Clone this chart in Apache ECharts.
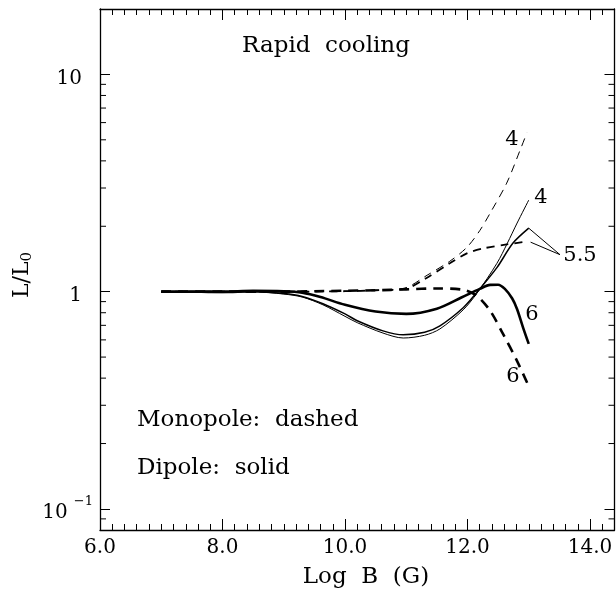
<!DOCTYPE html>
<html><head><meta charset="utf-8">
<script src="https://cdn.jsdelivr.net/npm/echarts@6.0.0/dist/echarts.min.js"></script>
<style>html,body{margin:0;padding:0;background:#fff}#c{width:616px;height:590px}</style>
</head><body><div id="c"></div>
<script>
const FONT = 'DejaVu Serif';

// Dipole (solid) curves
const dip6X  = [7.0, 7.5, 8.0, 8.5, 9.0, 9.3, 9.6, 10.0, 10.5, 11.0, 11.5, 11.9, 12.2, 12.37, 12.5, 12.61, 12.73, 12.81, 12.91, 13.0];
const dip6Y  = [1.00, 1.00, 1.00, 1.01, 1.005, 0.99, 0.945, 0.87, 0.81, 0.79, 0.835, 0.94, 1.03, 1.075, 1.077, 1.03, 0.93, 0.83, 0.68, 0.575];
const dip55X = [7.0, 7.5, 8.0, 8.5, 9.0, 9.3, 9.64, 10.0, 10.2, 10.62, 10.95, 11.3, 11.55, 11.93, 12.15, 12.48, 12.74, 13.0];
const dip55Y = [1.00, 0.995, 0.99, 1.0, 0.98, 0.95, 0.88, 0.79, 0.735, 0.66, 0.633, 0.65, 0.696, 0.843, 0.99, 1.29, 1.67, 1.96];
const dip4X  = [7.0, 7.5, 8.0, 8.5, 9.0, 9.3, 9.64, 10.0, 10.2, 10.62, 10.95, 11.3, 11.55, 11.93, 12.15, 12.48, 12.65, 12.81, 13.0];
const dip4Y  = [1.00, 0.995, 0.99, 1.0, 0.975, 0.945, 0.87, 0.77, 0.72, 0.645, 0.612, 0.63, 0.674, 0.825, 0.98, 1.35, 1.67, 2.07, 2.64];

// Monopole (dashed) curves
const mono6X  = [7.0, 8.0, 9.0, 9.5, 10.0, 10.5, 11.0, 11.5, 11.93, 12.15, 12.37, 12.58, 12.81, 13.0];
const mono6Y  = [1.0, 1.0, 1.0, 1.005, 1.01, 1.015, 1.025, 1.035, 1.02, 0.958, 0.817, 0.639, 0.479, 0.367];
const mono55X = [7.0, 8.0, 9.0, 10.0, 10.5, 10.98, 11.34, 11.71, 11.99, 12.25, 12.64, 12.9];
const mono55Y = [1.0, 1.0, 1.0, 1.005, 1.015, 1.03, 1.16, 1.35, 1.5, 1.58, 1.65, 1.69];
const mono4X  = [7.0, 8.0, 9.0, 10.0, 10.5, 10.98, 11.34, 11.71, 11.99, 12.2, 12.37, 12.64, 12.86, 12.97];
const mono4Y  = [1.0, 1.0, 1.0, 1.005, 1.015, 1.04, 1.19, 1.38, 1.6, 1.91, 2.3, 3.16, 4.49, 5.39];

// Leader lines for the "5.5" label
const pointerX = [13.0, 13.51, 13.03];
const pointerY = [1.96, 1.48, 1.69];

// Axis ranges and ticks
const xMin = 6, xMax = 14.4, xStep = 2;
const yMin = 0.08, yMax = 20;
const yMinorTicks = [0.09, 0.2, 0.3, 0.4, 0.5, 0.6, 0.7, 0.8, 0.9, 2, 3, 4, 5, 6, 7, 8, 9];

const pair = (xs, ys) => xs.map((x, i) => [x, ys[i]]);

const chart = echarts.init(document.getElementById('c'), null, {renderer: 'canvas'});

const xAxisBase = {
  type: 'value', min: xMin, max: xMax, interval: xStep,
  axisLine: {show: true, onZero: false, lineStyle: {color: '#000', width: 1.3}},
  axisTick: {show: true, inside: true, length: 11, lineStyle: {color: '#000', width: 1}},
  minorTick: {show: true, splitNumber: 10, length: 6, lineStyle: {color: '#000', width: 1}},
  splitLine: {show: false}, minorSplitLine: {show: false}
};
const yAxisBase = {
  type: 'log', logBase: 10, min: yMin, max: yMax,
  axisLine: {show: true, onZero: false, lineStyle: {color: '#000', width: 1.3}},
  axisTick: {show: true, inside: true, length: 10, lineStyle: {color: '#000', width: 1}},
  splitLine: {show: false}
};

const lineSeries = (data, width, type) => ({
  type: 'line', data, showSymbol: false, symbol: 'none', smooth: 0.3,
  lineStyle: {color: '#000', width, type}, silent: true, z: 3
});

const txt = (x, y, text, size, align) => ({type: 'text', x, y,
  style: {text, font: size + 'px "DejaVu Serif"', fill: '#000', align: align || 'center', verticalAlign: 'middle'}});

const option = {
  animation: false,
  grid: {left: 100, right: 1.5, top: 9, bottom: 60, containLabel: false, outerBoundsMode: 'none'},
  xAxis: [
    Object.assign({}, xAxisBase, {position: 'bottom',
      axisLabel: {margin: 8, fontFamily: FONT, fontSize: 20, color: '#000',
        formatter: v => Math.abs(v / xStep - Math.round(v / xStep)) < 1e-6 ? v.toFixed(1) : ''}}),
    Object.assign({}, xAxisBase, {position: 'top', axisLabel: {show: false}})
  ],
  yAxis: [
    Object.assign({}, yAxisBase, {position: 'left',
      axisLabel: {margin: 7, color: '#000',
        formatter: v => {
          const l = Math.log10(v), r = Math.round(l);
          if (Math.abs(l - r) > 1e-6) return '';
          if (r === 1) return '{n|10}{pad|}';
          if (r === 0) return '{n|1}{pad|}';
          if (r === -1) return '{n|10}{sup| \u22121}';
          return '';
        },
        rich: {
          n: {fontFamily: FONT, fontSize: 20, color: '#000', verticalAlign: 'bottom', padding: [8, 0, 0, 0]},
          pad: {width: 11},
          sup: {fontFamily: FONT, fontSize: 13, color: '#000', verticalAlign: 'top', padding: [0, 0, 10, 2]}
        }}}),
    Object.assign({}, yAxisBase, {position: 'right', axisLabel: {show: false}})
  ],
  graphic: [
    txt(326, 46, 'Rapid  cooling', 23),
    txt(137, 420, 'Monopole:  dashed', 23, 'left'),
    txt(137, 468, 'Dipole:  solid', 23, 'left'),
    txt(366, 577, 'Log  B  (G)', 23),
    {type: 'text', x: 22, y: 275, rotation: Math.PI / 2,
      style: {text: '{n|L/L}{s|0}', align: 'center', verticalAlign: 'middle',
        rich: {n: {fontFamily: FONT, fontSize: 22, color: '#000'},
               s: {fontFamily: FONT, fontSize: 15, color: '#000', padding: [10, 0, 0, 0]}}}},
    txt(512, 140, '4', 21),
    txt(541, 198, '4', 21),
    txt(580, 256, '5.5', 21),
    txt(532, 315, '6', 21),
    txt(513, 377, '6', 21)
  ],
  series: [
    lineSeries(pair(dip6X, dip6Y), 2.6, 'solid'),
    lineSeries(pair(dip55X, dip55Y), 1.5, 'solid'),
    lineSeries(pair(dip4X, dip4Y), 1.0, 'solid'),
    lineSeries(pair(mono6X, mono6Y), 2.6, [10, 7]),
    lineSeries(pair(mono55X, mono55Y), 1.8, [8, 6]),
    lineSeries(pair(mono4X, mono4Y), 1.0, [8, 6]),
    {type: 'line', data: pair(pointerX, pointerY), showSymbol: false, symbol: 'none', smooth: false,
      lineStyle: {color: '#000', width: 1}, silent: true},
    {type: 'custom', silent: true, data: yMinorTicks.map(v => [xMin, v]),
      renderItem: (params, api) => {
        const p = api.coord([api.value(0), api.value(1)]);
        const cs = params.coordSys;
        return {type: 'group', children: [
          {type: 'line', shape: {x1: cs.x, y1: p[1], x2: cs.x + 6, y2: p[1]}, style: {stroke: '#000', lineWidth: 1}},
          {type: 'line', shape: {x1: cs.x + cs.width - 6, y1: p[1], x2: cs.x + cs.width, y2: p[1]}, style: {stroke: '#000', lineWidth: 1}}
        ]};
      }}
  ]
};
chart.setOption(option);
</script>
</body></html>
